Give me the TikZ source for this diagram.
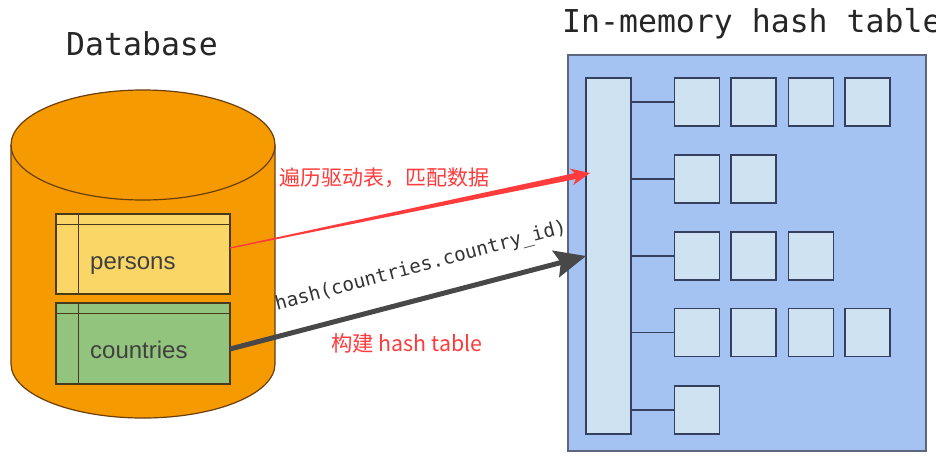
\documentclass[tikz,border=0pt]{standalone}
\usepackage{fontspec}
\setmainfont{Liberation Sans}
\newfontfamily\monof{DejaVu Sans Mono}
\newfontfamily\cjkf{Noto Sans CJK SC}
\usetikzlibrary{arrows.meta,calc}
\definecolor{orangefill}{HTML}{F59A00}
\definecolor{brownline}{HTML}{6B3F0C}
\definecolor{yellowfill}{HTML}{FAD666}
\definecolor{greenfill}{HTML}{93C47D}
\definecolor{tableline}{HTML}{4A3A1C}
\definecolor{bluefill}{HTML}{A4C2F2}
\definecolor{cellfill}{HTML}{CFE2F2}
\definecolor{blueline}{HTML}{34405E}
\definecolor{redline}{HTML}{FF3B3B}
\definecolor{grayline}{HTML}{484848}
\tikzset{
  tablebox/.style={draw=tableline,line width=1.4pt,inner sep=0pt,outer sep=0pt,minimum width=174pt,minimum height=80pt},
  cellbox/.style={draw=blueline,line width=1.4pt,fill=cellfill,inner sep=0pt,outer sep=0pt,minimum width=45pt,minimum height=48pt},
  stub/.style={draw=blueline,line width=1.4pt},
  gridline/.style={draw=tableline,line width=1.4pt},
  title/.style={font=\monof\fontsize{31.5}{31.5}\selectfont,text=black!85,inner sep=0pt,anchor=base west},
  tablelabel/.style={font=\fontsize{24}{24}\selectfont,text=black!75,inner sep=0pt,anchor=base west},
  redlabel/.style={font=\cjkf\fontsize{21}{21}\selectfont,text=redline,inner sep=0pt,anchor=base west},
}
\begin{document}
\begin{tikzpicture}[x=1pt,y=-1pt]
\useasboundingbox (0,0) rectangle (936,459);
\fill[white] (0,0) rectangle (936,459);
% titles
\node[title] (dbtitle) at (66,55) {Database};
\node[title] (hashtitle) at (562,32) {In-memory hash table};
% cylinder
\draw[draw=brownline,line width=1.2pt,fill=orangefill]
  (11,145) -- (11,364) arc[start angle=180,end angle=0,x radius=132,y radius=54] -- (275,145)
  arc[start angle=0,end angle=-180,x radius=132,y radius=55] -- cycle;
\draw[draw=brownline,line width=1.2pt] (11,145) arc[start angle=180,end angle=0,x radius=132,y radius=55];
% tables
\node[tablebox,fill=yellowfill] (persons) at (143,254) {};
\node[tablebox,fill=greenfill,minimum height=81pt] (countries) at (143,343.5) {};
\draw[gridline] (persons.north west |- 0,224.5) -- (persons.north east |- 0,224.5);
\draw[gridline] (78.5,0 |- persons.north) -- (78.5,0 |- persons.south);
\draw[gridline] (countries.north west |- 0,313.5) -- (countries.north east |- 0,313.5);
\draw[gridline] (78.5,0 |- countries.north) -- (78.5,0 |- countries.south);
\node[tablelabel] (personslabel) at (90,269) {persons};
\node[tablelabel] (countrieslabel) at (90,358) {countries};
% hash table
\node[draw=blueline!80,line width=1.4pt,fill=bluefill,inner sep=0pt,outer sep=0pt,minimum width=358pt,minimum height=396pt] (table) at (747,253) {};
\node[cellbox,minimum height=356pt] (col) at (608.5,256) {};
\foreach \n/\cx/\cy/\w in {
 a1/697/102/45, a2/753.5/102/45, a3/811/102/45, a4/867.5/102/45,
 b1/697/179/45, b2/753.5/179/45,
 c1/697/256/45, c2/753.5/256/45, c3/811/256/45,
 d1/697/332.5/45, d2/753.5/332.5/45, d3/811/332.5/45, d4/867.5/332.5/45,
 e1/697/410/45}
  \node[cellbox,minimum width=\w pt] (\n) at (\cx,\cy) {};
\foreach \n in {a1,b1,c1,d1,e1}
  \draw[stub] (col.east |- \n.west) -- (\n.west);
% connectors
\coordinate (redtip) at (590,173);
\coordinate (redstart) at ([yshift=6pt]persons.east);
\coordinate (redneck) at ($(redtip)!15pt!(redstart)$);
\coordinate (redbarb) at ($(redtip)!19pt!(redstart)$);
\fill[redline]
  ($(redstart)!0.6pt!90:(redtip)$) --
  ($(redneck)!3pt!90:(redtip)$) --
  ($(redbarb)!8.5pt!90:(redtip)$) --
  (redtip) --
  ($(redbarb)!8.5pt!-90:(redtip)$) --
  ($(redneck)!3pt!-90:(redtip)$) --
  ($(redstart)!0.6pt!-90:(redtip)$) -- cycle;
\coordinate (graytip) at (586,256);
\draw[draw=grayline,line width=5pt,-{Stealth[length=31pt,width=27pt,inset=5pt]}]
  ([yshift=-5.5pt]countries.east) -- (graytip);
% labels
\node[redlabel] (redtext) at (279,185) {遍历驱动表，匹配数据};
\node[redlabel,font=\cjkf\fontsize{21.4}{21.4}\selectfont] (buildtext) at (331,351) {构建 hash table};
\node[font=\monof\fontsize{19.2}{19.2}\selectfont,text=black!80,inner sep=0pt,rotate=15] (hashlabel) at (421,267) {hash(countries.country\_id)};
\end{tikzpicture}
\end{document}
